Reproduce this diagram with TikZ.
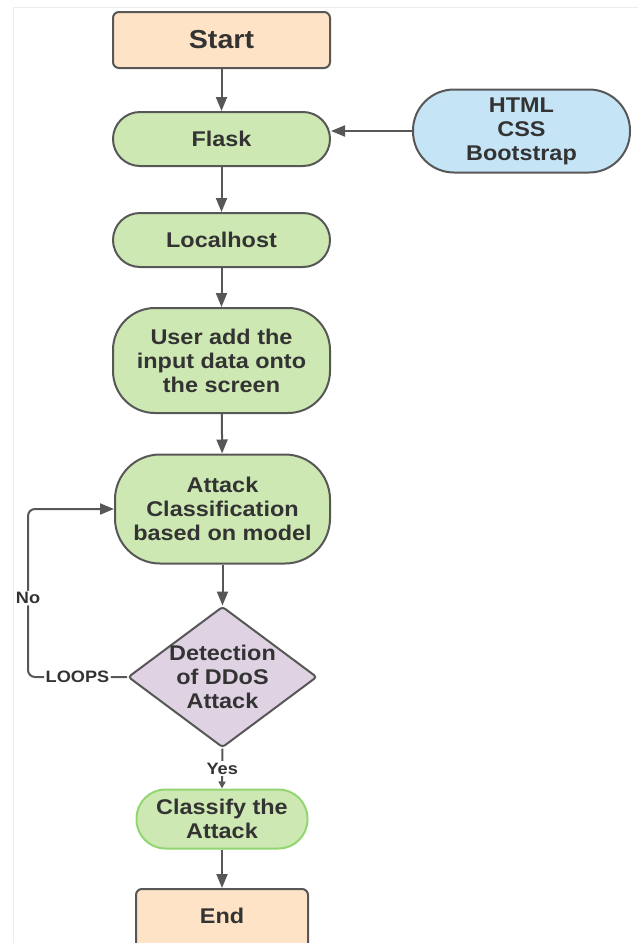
\documentclass[tikz,border=0pt]{standalone}
\usepackage{fontspec}
\setmainfont[FakeStretch=1.1]{Liberation Sans}
\usetikzlibrary{shapes.geometric,arrows.meta}
\definecolor{peach}{HTML}{FFE3C6}
\definecolor{leaf}{HTML}{CDE8B2}
\definecolor{sky}{HTML}{C5E4F6}
\definecolor{lilac}{HTML}{DFD2E3}
\definecolor{edge}{HTML}{575757}
\definecolor{txt}{HTML}{333333}
\definecolor{lightedge}{HTML}{92D672}
\tikzset{
  base/.style={draw=edge, line width=2pt, text=txt, align=center, inner sep=0pt,
    font=\bfseries\fontsize{21.3}{24}\selectfont},
  term/.style={base, fill=peach, minimum width=217, rounded corners=6},
  proc/.style={base, fill=leaf, minimum width=217},
  lbl/.style={text=txt, fill=white, inner sep=1.5pt, font=\bfseries\fontsize{16.5}{18}\selectfont},
  arr/.style={draw=edge, line width=2pt, -{Triangle[length=14pt,width=11pt]}},
  faint/.style={draw=black!7, line width=1pt}
}
\begin{document}
\begin{tikzpicture}[x=1pt,y=-1pt]
\useasboundingbox (0,0) rectangle (638,943);
\clip (0,0) rectangle (638,943);
\draw[faint] (13,943) -- (13,7) -- (638,7);

\node[term, minimum height=56, font=\bfseries\fontsize{26}{30}\selectfont] (start) at (221.5,40) {Start};
\node[proc, minimum height=54, rounded corners=27] (flask) at (221.5,139) {Flask};
\node[base, fill=sky, minimum width=217, minimum height=83, rounded corners=41] (html) at (521.5,131) {HTML\\CSS\\Bootstrap};
\node[proc, minimum height=54, rounded corners=27] (local) at (221.5,240) {Localhost};
\node[proc, minimum height=105, rounded corners=42] (user) at (221.5,360.5) {User add the\\input data onto\\the screen};
\node[proc, minimum width=215, minimum height=109, rounded corners=45] (att) at (222.5,509) {Attack\\Classification\\based on model};
\node[base, diamond, fill=lilac, minimum width=189, minimum height=141, rounded corners=3] (dec) at (222.5,677) {};
\node[text=txt, align=center, inner sep=0pt, font=\bfseries\fontsize{21.3}{24}\selectfont] (dectext) at (dec.center) {Detection\\of DDoS\\Attack};
\node[base, fill=leaf, draw=lightedge, minimum width=171, minimum height=59, rounded corners=29] (cls) at (222,819) {Classify the\\Attack};
\node[term, minimum width=172, minimum height=62] (end) at (222,920) {};
\node[text=txt, inner sep=0pt, font=\bfseries\fontsize{21.3}{24}\selectfont] (endtext) at (222,916) {End};

\draw[arr] (start) -- (flask);
\draw[arr] (html.west) -- (html.west -| flask.east);
\draw[arr] (flask) -- (local);
\draw[arr] (local) -- (user);
\draw[arr] (user) -- (att);
\draw[arr] (att) -- (dec.north);
\coordinate (lpa) at (28,677);
\coordinate (lpb) at (28,509);
\draw[arr, rounded corners=7] (dec.west) -- node[lbl]{LOOPS} (lpa) -- node[lbl, pos=0.47]{No} (lpb) -- (att.west);
\draw[draw=edge, line width=2pt, -{Triangle[length=7pt,width=7pt]}] (dec.south) -- node[lbl]{Yes} (cls.north);
\draw[arr] (cls) -- (end.north);
\end{tikzpicture}
\end{document}
